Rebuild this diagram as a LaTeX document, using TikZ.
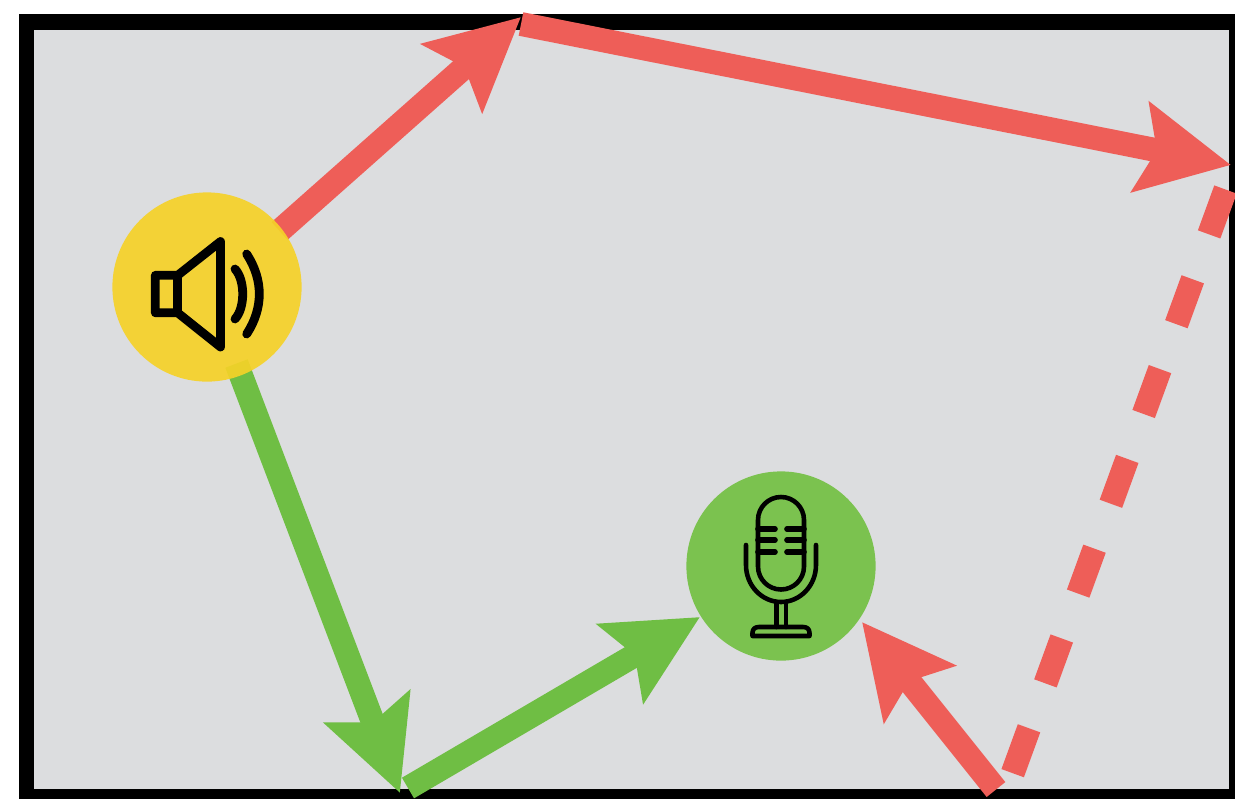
\documentclass[tikz,border=0pt]{standalone}
\usepackage{xcolor}
\usetikzlibrary{arrows.meta,backgrounds}

\definecolor{roomgray}{HTML}{DCDDDF}
\definecolor{raored}{HTML}{EE5E58}
\definecolor{raygreen}{HTML}{6FBE44}
\definecolor{micgreen}{HTML}{73C043}
\definecolor{spkyellow}{HTML}{F5D228}

\tikzset{
  ray/.style={line width=13.6pt,-{Stealth[length=52pt,width=51pt,inset=9pt]}},
  source/.style={circle,minimum size=107.7pt,inner sep=0pt,opacity=0.92},
  spkline/.style={line width=5pt,line cap=round,line join=round},
  micline/.style={line width=2.6pt,line cap=round,line join=round}
}

\begin{document}
\begin{tikzpicture}[x=0.02cm,y=-0.02cm]

\useasboundingbox (0,0) rectangle (1235,799);

% speaker and microphone
\node[source,fill=spkyellow] (speaker) at (207,287) {};
\node[source,fill=micgreen] (mic) at (781,566) {};

% reflection points
\coordinate (directstart) at (236.5,363.5);
\coordinate (floorin) at (400,793);
\coordinate (floorout) at (408,788);
\coordinate (topin) at (521,17);
\coordinate (topout) at (521,24);
\coordinate (rightin) at (1231,165);
\coordinate (dashstart) at (1225.5,189.5);
\coordinate (dashend) at (1012,775);
\coordinate (lastout) at (996,789.5);
\coordinate (lastin) at (862,622);
\coordinate (micin) at (700,617);
\coordinate (speakerout) at (279.5,231);

\begin{scope}[on background layer]
  % room
  \fill[black] (19,14) rectangle (1235,799);
  \fill[roomgray] (34,30) rectangle (1229,789);

  % green path
  \draw[ray,raygreen] (directstart) -- (floorin);
  \draw[ray,raygreen] (floorout) -- (micin);

  % red path
  \draw[ray,raored] (speakerout) -- (topin);
  \draw[ray,raored] (topout) -- (rightin);
  \draw[raored,line width=13.6pt,dash pattern=on 27.2pt off 27.2pt] (dashstart) -- (dashend);
  \draw[ray,raored] (lastout) -- (lastin);
\end{scope}

% speaker icon
\draw[spkline] (155.3,275.3) -- (177.7,275.3) -- (220.5,241.5) -- (220.5,347)
  -- (177.7,312.8) -- (155.3,312.8) -- cycle;
\draw[spkline] (177.7,275.3) -- (177.7,312.8);
\draw[spkline] (235,269) .. controls (245.3,280) and (245.3,308) .. (235,319);
\draw[spkline] (246.7,254) .. controls (263.5,280) and (263.5,308) .. (246.7,334);

% microphone icon
\draw[micline] (758,520) arc[start angle=180,end angle=360,radius=23]
  -- (804,566.5) arc[start angle=0,end angle=180,radius=23] -- cycle;
\foreach \y in {529,540,552} {
  \draw[micline,line width=3.2pt] (758,\y) -- (775,\y);
  \draw[micline,line width=3.2pt] (787,\y) -- (804,\y);
}
\draw[micline] (746,545) -- (746,565)
  arc[start angle=180,end angle=0,x radius=35,y radius=37] -- (816,545);
\draw[micline] (776.3,602) -- (776.3,627);
\draw[micline] (786,602) -- (786,627);
\draw[micline] (752.5,636) -- (752.5,633) .. controls (752.5,629) and (755,627) .. (759,627)
  -- (803,627) .. controls (807,627) and (809.5,629) .. (809.5,633) -- (809.5,636) -- cycle;

\end{tikzpicture}
\end{document}
